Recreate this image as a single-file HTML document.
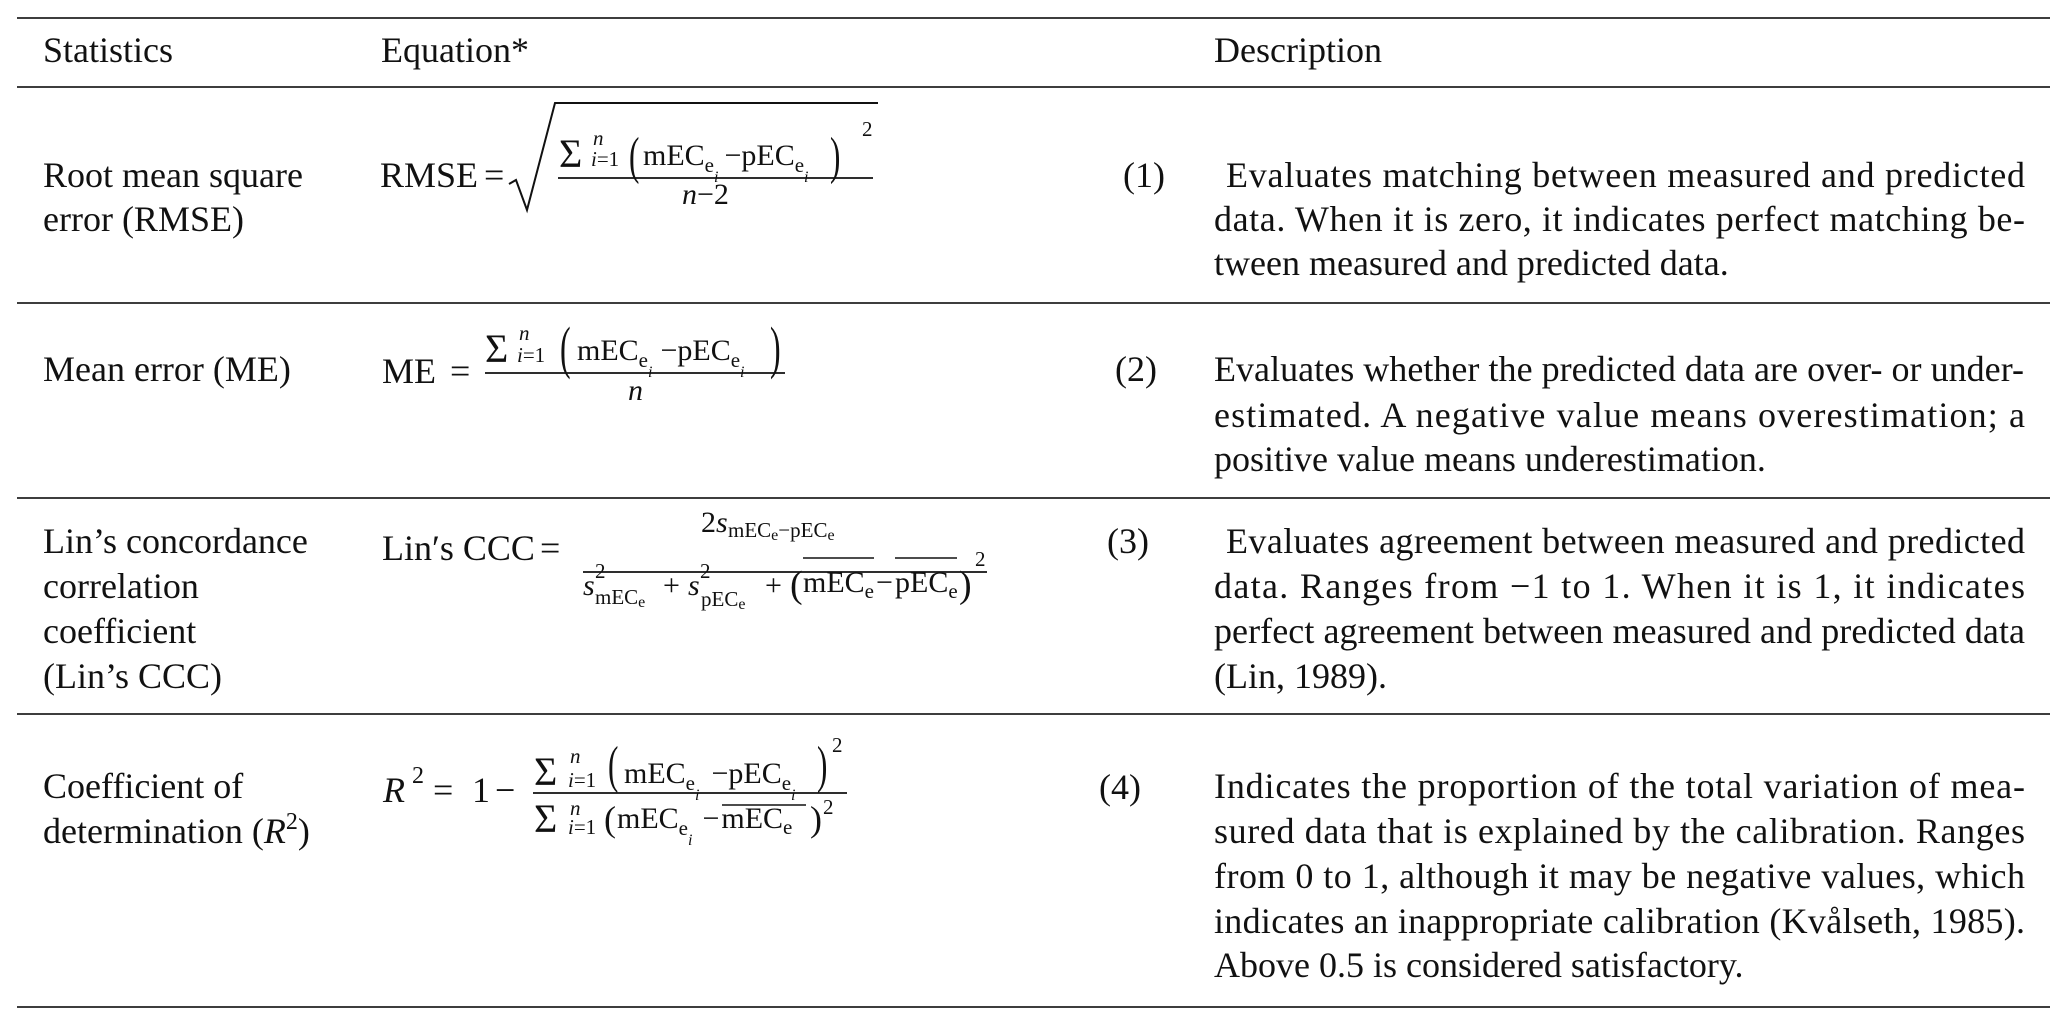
<!DOCTYPE html>
<html><head><meta charset="utf-8"><style>
html,body{margin:0;padding:0;background:#fff;}
svg{display:block;}
text{font-family:"Liberation Serif",serif;fill:#111;}
.b{font-size:36px;}
.f{font-size:30px;}
.s{font-size:21px;}
.ss{font-size:16px;}
.it{font-style:italic;}
</style></head><body>
<svg width="2067" height="1027" viewBox="0 0 2067 1027" xmlns="http://www.w3.org/2000/svg">
<g stroke="#222" stroke-width="1.8">
<line x1="17" y1="18" x2="2050" y2="18"/>
<line x1="17" y1="87" x2="2050" y2="87"/>
<line x1="17" y1="303" x2="2050" y2="303"/>
<line x1="17" y1="498" x2="2050" y2="498"/>
<line x1="17" y1="714" x2="2050" y2="714"/>
<line x1="17" y1="1007" x2="2050" y2="1007"/>
</g>
<!-- header -->
<text class="b" x="43" y="62">Statistics</text>
<text class="b" x="381" y="62">Equation*</text>
<text class="b" x="1214" y="62">Description</text>

<!-- column 1 -->
<text class="b" x="43" y="187">Root mean square</text>
<text class="b" x="43" y="231">error (RMSE)</text>
<text class="b" x="43" y="381">Mean error (ME)</text>
<text class="b" x="43" y="553">Lin’s concordance</text>
<text class="b" x="43" y="598">correlation</text>
<text class="b" x="43" y="643">coefficient</text>
<text class="b" x="43" y="688">(Lin’s CCC)</text>
<text class="b" x="43" y="798">Coefficient of</text>
<text class="b" x="43" y="843">determination (<tspan class="it">R</tspan><tspan font-size="24" dy="-14">2</tspan><tspan dy="14">)</tspan></text>

<!-- equation numbers -->
<text class="b" x="1123" y="187">(1)</text>
<text class="b" x="1115" y="381">(2)</text>
<text class="b" x="1107" y="553">(3)</text>
<text class="b" x="1099" y="799">(4)</text>

<!-- descriptions -->
<text class="b" x="1226" y="187" textLength="799" lengthAdjust="spacing">Evaluates matching between measured and predicted</text>
<text class="b" x="1214" y="231" textLength="811" lengthAdjust="spacing">data. When it is zero, it indicates perfect matching be-</text>
<text class="b" x="1214" y="275">tween measured and predicted data.</text>

<text class="b" x="1214" y="381" textLength="810" lengthAdjust="spacing">Evaluates whether the predicted data are over- or under-</text>
<text class="b" x="1214" y="427" textLength="811" lengthAdjust="spacing">estimated. A negative value means overestimation; a</text>
<text class="b" x="1214" y="471">positive value means underestimation.</text>

<text class="b" x="1226" y="553" textLength="799" lengthAdjust="spacing">Evaluates agreement between measured and predicted</text>
<text class="b" x="1214" y="598" textLength="811" lengthAdjust="spacing">data. Ranges from −1 to 1. When it is 1, it indicates</text>
<text class="b" x="1214" y="643" textLength="811" lengthAdjust="spacing">perfect agreement between measured and predicted data</text>
<text class="b" x="1214" y="688">(Lin, 1989).</text>

<text class="b" x="1214" y="798" textLength="811" lengthAdjust="spacing">Indicates the proportion of the total variation of mea-</text>
<text class="b" x="1214" y="843" textLength="811" lengthAdjust="spacing">sured data that is explained by the calibration. Ranges</text>
<text class="b" x="1214" y="888" textLength="811" lengthAdjust="spacing">from 0 to 1, although it may be negative values, which</text>
<text class="b" x="1214" y="933" textLength="811" lengthAdjust="spacing">indicates an inappropriate calibration (Kvålseth, 1985).</text>
<text class="b" x="1214" y="977">Above 0.5 is considered satisfactory.</text>

<!-- Eq 1 RMSE -->
<text class="b" x="380" y="187">RMSE</text>
<text class="b" x="484" y="187">=</text>
<path d="M509,184 L516,180 L527,210 L555,103 L878,103" fill="none" stroke="#111" stroke-width="2"/>
<line x1="558" y1="178" x2="873" y2="178" stroke="#111" stroke-width="1.8"/>
<text x="559" y="167" font-size="40">Σ</text>
<text class="s it" x="593" y="145">n</text>
<text class="s" x="591" y="166"><tspan class="it">i</tspan>=1</text>
<text x="629" y="173" font-size="52" transform="translate(629 0) scale(0.6 1) translate(-629 0)">(</text>
<text class="f" x="643" y="165">mEC<tspan class="s" dy="7">e</tspan><tspan class="ss it" dy="10">i</tspan><tspan dy="-17" dx="6">−pEC</tspan><tspan class="s" dy="7">e</tspan><tspan class="ss it" dy="10">i</tspan></text>
<text x="830" y="173" font-size="52" transform="translate(830 0) scale(0.6 1) translate(-830 0)">)</text>
<text class="s" x="862" y="136">2</text>
<text class="f" x="682" y="204"><tspan class="it">n</tspan>−2</text>

<!-- Eq 2 ME -->
<text class="b" x="382" y="383">ME</text>
<text class="b" x="450" y="383">=</text>
<line x1="485" y1="373" x2="785" y2="373" stroke="#111" stroke-width="1.8"/>
<text x="485" y="362" font-size="40">Σ</text>
<text class="s it" x="519" y="340">n</text>
<text class="s" x="517" y="362"><tspan class="it">i</tspan>=1</text>
<text x="560" y="367" font-size="58" transform="translate(560 0) scale(0.55 1) translate(-560 0)">(</text>
<text class="f" x="577" y="360">mEC<tspan class="s" dy="7">e</tspan><tspan class="ss it" dy="10">i</tspan><tspan dy="-17" dx="8">−pEC</tspan><tspan class="s" dy="7">e</tspan><tspan class="ss it" dy="10">i</tspan></text>
<text x="770" y="367" font-size="58" transform="translate(770 0) scale(0.55 1) translate(-770 0)">)</text>
<text class="f it" x="628" y="400">n</text>

<!-- Eq 3 CCC -->
<text class="b" x="382" y="560">Lin′s CCC</text>
<text class="b" x="540" y="560">=</text>
<line x1="583" y1="572" x2="987" y2="572" stroke="#111" stroke-width="1.8"/>
<text class="f" x="701" y="532">2<tspan class="it">s</tspan></text>
<text class="s" x="728" y="537">mEC<tspan font-size="16" dy="3">e</tspan><tspan dy="-3">−pEC</tspan><tspan font-size="16" dy="3">e</tspan></text>
<text class="f it" x="583" y="595">s</text>
<text class="s" x="595" y="578">2</text>
<text class="s" x="595" y="604">mEC<tspan font-size="16" dy="3">e</tspan></text>
<text class="f" x="663" y="595">+</text>
<text class="f it" x="688" y="595">s</text>
<text class="s" x="700" y="578">2</text>
<text class="s" x="701" y="606">pEC<tspan font-size="16" dy="3">e</tspan></text>
<text class="f" x="765" y="595">+</text>
<text x="790" y="597" font-size="38">(</text>
<text class="f" x="803" y="592">mEC<tspan class="s" dy="6">e</tspan></text>
<line x1="803" y1="558" x2="874" y2="558" stroke="#111" stroke-width="1.5"/>
<text class="f" x="876" y="592">−</text>
<text class="f" x="895" y="592">pEC<tspan class="s" dy="6">e</tspan></text>
<line x1="895" y1="558" x2="957" y2="558" stroke="#111" stroke-width="1.5"/>
<text x="959" y="597" font-size="38">)</text>
<text class="s" x="975" y="566">2</text>

<!-- Eq 4 R2 -->
<text class="b it" x="383" y="802">R</text>
<text x="412" y="783" font-size="24">2</text>
<text class="b" x="433" y="802">=</text>
<text class="b" x="472" y="802">1</text>
<text class="b" x="495" y="802">−</text>
<line x1="533" y1="793" x2="847" y2="793" stroke="#111" stroke-width="1.8"/>
<text x="534" y="785" font-size="40">Σ</text>
<text class="s it" x="570" y="763">n</text>
<text class="s" x="568" y="787"><tspan class="it">i</tspan>=1</text>
<text x="608" y="782" font-size="52" transform="translate(608 0) scale(0.6 1) translate(-608 0)">(</text>
<text class="f" x="624" y="783">mEC<tspan class="s" dy="7">e</tspan><tspan class="ss it" dy="10">i</tspan><tspan dy="-17" dx="12">−pEC</tspan><tspan class="s" dy="7">e</tspan><tspan class="ss it" dy="10">i</tspan></text>
<text x="817" y="782" font-size="52" transform="translate(817 0) scale(0.6 1) translate(-817 0)">)</text>
<text class="s" x="832" y="752">2</text>
<text x="534" y="832" font-size="40">Σ</text>
<text class="s it" x="570" y="815">n</text>
<text class="s" x="568" y="834"><tspan class="it">i</tspan>=1</text>
<text x="604" y="831" font-size="36">(</text>
<text class="f" x="617" y="828">mEC<tspan class="s" dy="7">e</tspan><tspan class="ss it" dy="10">i</tspan><tspan dy="-17" dx="10">−</tspan><tspan dx="2">mEC</tspan><tspan class="s" dy="6">e</tspan></text>
<line x1="722" y1="805" x2="806" y2="805" stroke="#111" stroke-width="1.5"/>
<text x="810" y="831" font-size="36">)</text>
<text class="s" x="823" y="814">2</text>
</svg>
</body></html>
